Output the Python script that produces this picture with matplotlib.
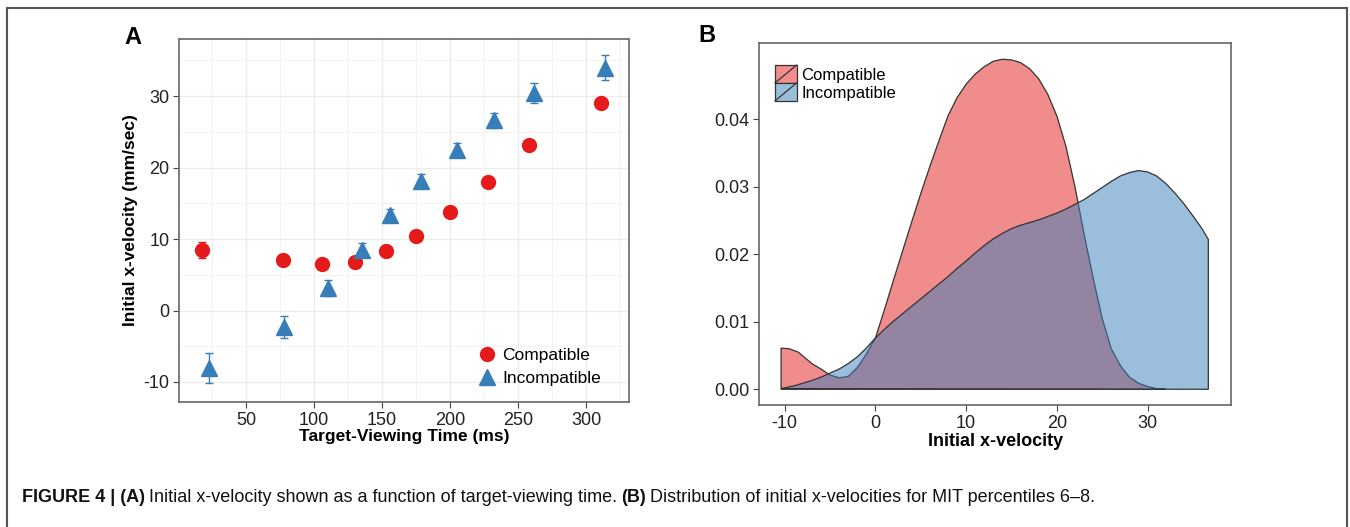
import matplotlib
matplotlib.use('Agg')
import matplotlib.pyplot as plt
from matplotlib.patches import Rectangle, Patch
from matplotlib.lines import Line2D
from matplotlib.legend_handler import HandlerBase

plt.rcParams['font.family'] = ['Liberation Sans', 'DejaVu Sans']
plt.rcParams['axes.unicode_minus'] = False

# Panel A: initial x-velocity vs target-viewing time
comp_time = [18, 77, 106, 130, 153, 175, 200, 228, 258, 311]
comp_vel = [8.5, 7.1, 6.5, 6.8, 8.3, 10.5, 13.8, 18.0, 23.1, 29.1]
comp_err = [1.1, 0.4, 0.4, 0.5, 0.6, 0.5, 0.5, 0.3, 0.3, 0.5]
incomp_time = [23, 78, 110, 135, 156, 179, 205, 232, 262, 314]
incomp_vel = [-8.0, -2.3, 3.2, 8.5, 13.4, 18.1, 22.5, 26.6, 30.5, 34.0]
incomp_err = [2.1, 1.6, 1.1, 0.9, 0.8, 1.0, 1.0, 1.1, 1.4, 1.8]

# Panel B: density of initial x-velocity
comp_x = [-10.4, -10.4, -9.5, -8.5, -7, -6, -5, -4, -3, -2, -1, 0, 1, 2, 3, 4, 5, 6, 7, 8,
          9, 10, 11, 12, 13, 14, 15, 16, 17, 18, 19, 20, 21, 22, 23, 24, 25, 26, 27,
          28, 29, 30, 31, 32]
comp_dens = [0.0, 0.0061, 0.0060, 0.0055, 0.0038, 0.0030, 0.0021, 0.0017, 0.0019, 0.0032,
             0.0052, 0.0076, 0.0118, 0.0162, 0.0205, 0.0248, 0.0290, 0.0330, 0.0368,
             0.0405, 0.0432, 0.0452, 0.0467, 0.0478, 0.0486, 0.0489, 0.0488, 0.0484,
             0.0475, 0.0460, 0.0437, 0.0405, 0.0360, 0.0300, 0.0230, 0.0165, 0.0105,
             0.0060, 0.0035, 0.0018, 0.0009, 0.0004, 0.0001, 0.0]
incomp_x = [-10.4, -9, -8, -7, -6, -5, -4, -3, -2, -1, 0, 1, 2, 3, 4, 5, 6, 7, 8, 9, 10,
            11, 12, 13, 14, 15, 16, 17, 18, 19, 20, 21, 22, 23, 24, 25, 26, 27, 28, 29,
            30, 31, 32, 33, 34, 35, 36, 36.7, 36.7]
incomp_dens = [0.0001, 0.0005, 0.0009, 0.0013, 0.0018, 0.0024, 0.0030, 0.0038, 0.0048,
               0.0061, 0.0076, 0.0089, 0.0101, 0.0112, 0.0123, 0.0134, 0.0145, 0.0156,
               0.0167, 0.0179, 0.0190, 0.0202, 0.0213, 0.0223, 0.0231, 0.0238, 0.0243,
               0.0247, 0.0251, 0.0256, 0.0261, 0.0267, 0.0274, 0.0281, 0.0290, 0.0299,
               0.0308, 0.0316, 0.0321, 0.0324, 0.0322, 0.0316, 0.0305, 0.0291, 0.0275,
               0.0257, 0.0238, 0.0222, 0.0]

RED = '#E41A1C'
BLUE = '#377EB8'
W, H = 1350, 527


class DensityKey(HandlerBase):
    """ggplot style density key: filled box with a diagonal line."""
    def create_artists(self, legend, orig_handle, xdescent, ydescent, width, height,
                       fontsize, trans):
        x0, y0 = -xdescent, -ydescent
        rect = Rectangle((x0, y0), width, height, facecolor=orig_handle.get_facecolor(),
                         edgecolor='#333333', lw=0.9, transform=trans)
        diag = Line2D([x0, x0 + width], [y0, y0 + height], color='#333333', lw=0.9,
                      transform=trans)
        return [rect, diag]


def style_axes(ax):
    for s in ax.spines.values():
        s.set_color('#666666')
        s.set_linewidth(1.2)
    ax.tick_params(length=4, color='#444444', labelcolor='#222222', labelsize=13, pad=3)


fig = plt.figure(figsize=(W / 100, H / 100), dpi=100)

# ---- panel A
axA = fig.add_axes([179.3 / W, 1 - 402 / H, (629 - 179.3) / W, (402 - 39) / H])
axA.set_xlim(1, 331.5)
axA.set_ylim(-12.8, 38.0)
axA.set_xticks([50, 100, 150, 200, 250, 300])
axA.set_xticks([25, 75, 125, 175, 225, 275, 325], minor=True)
axA.set_yticks([-10, 0, 10, 20, 30])
axA.set_yticks([-5, 5, 15, 25, 35], minor=True)
axA.tick_params(which='minor', length=0)
axA.grid(True, which='major', color='#EBEBEB', lw=0.9)
axA.grid(True, which='minor', color='#F3F3F3', lw=0.7)
axA.set_axisbelow(True)
style_axes(axA)

axA.errorbar(comp_time, comp_vel, yerr=comp_err, fmt='none', ecolor=RED, elinewidth=1,
             capsize=3, capthick=1)
axA.errorbar(incomp_time, incomp_vel, yerr=incomp_err, fmt='none', ecolor=BLUE,
             elinewidth=1, capsize=3, capthick=1)
axA.plot(comp_time, comp_vel, ls='none', marker='o', ms=10, color=RED, label='Compatible')
axA.plot(incomp_time, incomp_vel, ls='none', marker='^', ms=11, color=BLUE,
         label='Incompatible')
axA.set_xlabel('Target-Viewing Time (ms)', fontsize=12.5, fontweight='bold', labelpad=0)
axA.set_ylabel('Initial x-velocity (mm/sec)', fontsize=12.5, fontweight='bold', labelpad=4)
axA.legend(loc='upper left', bbox_to_anchor=(478 / W, 1 - 348 / H),
           bbox_transform=fig.transFigure, frameon=False, fontsize=12.5, handlelength=1.0,
           handletextpad=0.4, labelspacing=0.42, borderpad=0, borderaxespad=0)

# ---- panel B
axB = fig.add_axes([759.3 / W, 1 - 405 / H, (1231 - 759.3) / W, (405 - 43.3) / H])
axB.set_xlim(-12.8, 39.2)
axB.set_ylim(-0.00233, 0.05126)
axB.set_xticks([-10, 0, 10, 20, 30])
axB.set_yticks([0.0, 0.01, 0.02, 0.03, 0.04])
axB.set_yticklabels(['0.00', '0.01', '0.02', '0.03', '0.04'])
style_axes(axB)

axB.fill(comp_x, comp_dens, facecolor=(0.894, 0.102, 0.110, 0.5), edgecolor='#333333',
         lw=0.9)
axB.fill(incomp_x, incomp_dens, facecolor=(0.216, 0.494, 0.722, 0.5), edgecolor='#333333',
         lw=0.9)
axB.set_xlabel('Initial x-velocity', fontsize=13, fontweight='bold', labelpad=1)

keys = [Patch(facecolor='#F28C8D'), Patch(facecolor='#9BBEDB')]
axB.legend(keys, ['Compatible', 'Incompatible'], handler_map={Patch: DensityKey()},
           loc='upper left', bbox_to_anchor=(775 / W, 1 - 65 / H),
           bbox_transform=fig.transFigure, frameon=False, fontsize=12,
           handlelength=1.3, handleheight=1.28, handletextpad=0.28, labelspacing=0.0,
           borderpad=0, borderaxespad=0)

# panel letters
fig.text(133 / W, 1 - 38 / H, 'A', fontsize=17, fontweight='bold', ha='center', va='center')
fig.text(707 / W, 1 - 36 / H, 'B', fontsize=17, fontweight='bold', ha='center', va='center')

# outer frame
fig.patches.append(Rectangle((7 / W, -0.1), (1347 - 7) / W, 1.1 - 8 / H,
                             transform=fig.transFigure, fill=False, edgecolor='#555555',
                             lw=1.5))

# caption, drawn piece by piece
cap_font = ['Liberation Sans Narrow', 'Liberation Sans', 'DejaVu Sans']
pieces = [('FIGURE 4 | (A)', 'bold'),
          ('Initial x-velocity shown as a function of target-viewing time.', 'normal'),
          ('(B)', 'bold'),
          ('Distribution of initial x-velocities for MIT percentiles 6\u20138.', 'normal')]
renderer = fig.canvas.get_renderer()
x = 22
for txt, wt in pieces:
    t = fig.text(x / W, 1 - 497 / H, txt, fontsize=13, fontweight=wt, family=cap_font,
                 ha='left', va='center', color='#111111')
    x = t.get_window_extent(renderer).x1 + 4

fig.savefig('out.png', dpi=100)
